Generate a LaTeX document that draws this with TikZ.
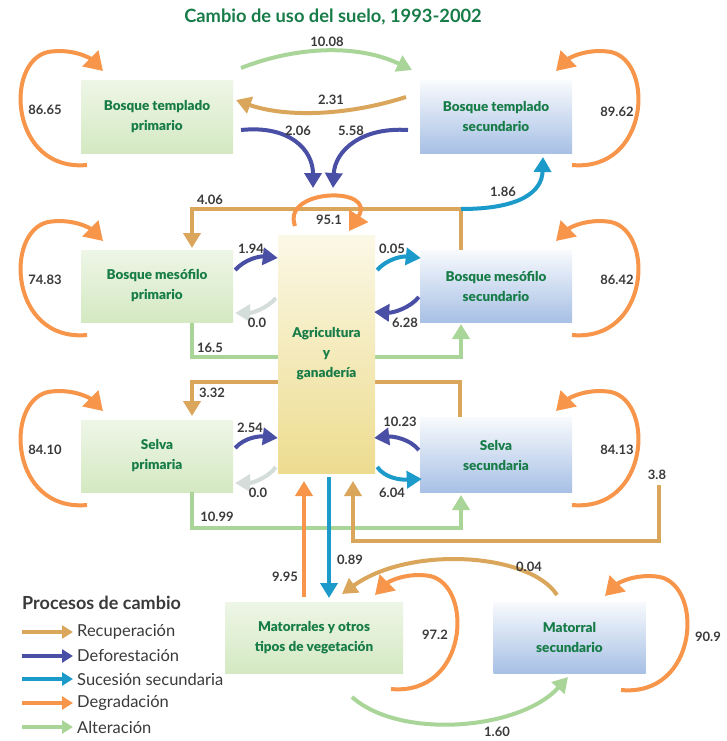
\documentclass[tikz,border=0pt]{standalone}
\usepackage{fontspec}
\setmainfont{Lato}
\newfontfamily\heavy{Lato Black}
\usetikzlibrary{arrows.meta,calc}
\definecolor{tan}{HTML}{D9A65C}
\definecolor{defo}{HTML}{4A4FA6}
\definecolor{suc}{HTML}{1C9BCB}
\definecolor{degr}{HTML}{F7964A}
\definecolor{alt}{HTML}{A9D598}
\definecolor{nul}{HTML}{D4DDDA}
\definecolor{txtg}{HTML}{177C47}
\definecolor{num}{HTML}{3A3A3A}
\definecolor{gtop}{HTML}{EEF6E7}
\definecolor{gbot}{HTML}{D4E9C2}
\definecolor{btop}{HTML}{F8FAFD}
\definecolor{bbot}{HTML}{A7C0E5}
\definecolor{ytop}{HTML}{FBF8E6}
\definecolor{ybot}{HTML}{EDDC8F}
\pgfdeclarelayer{bg}
\pgfsetlayers{bg,main}
\begin{document}
\begin{tikzpicture}[x=1pt,y=-1pt,
  lbl/.style={font=\fontsize{13}{15}\selectfont\bfseries, text=num, inner sep=0pt},
  boxtxt/.style={font=\fontsize{13.5}{20}\selectfont\heavy, text=txtg, align=center, inner sep=0pt},
  gbox/.style={boxtxt, top color=gtop, bottom color=gbot, minimum width=152pt, minimum height=72pt},
  bbox/.style={boxtxt, top color=btop, bottom color=bbot, minimum width=152pt, minimum height=72pt},
  flow/.style={line width=4pt, -{Triangle[length=15pt,width=17pt]}},
  loopy/.style={line width=4pt, draw=degr, -{Triangle[length=18pt,width=22pt]}},
  legarr/.style={line width=4pt, -{Triangle[length=11pt,width=13pt]}},
  legtxt/.style={font=\fontsize{16.5}{18}\selectfont, text=num, anchor=west, inner sep=0pt}
]
\useasboundingbox (0,0) rectangle (727,741);
\begin{pgfonlayer}{bg}
\fill[white] (0,0) rectangle (727,741);
\end{pgfonlayer}

% title
\node[font=\fontsize{18.3}{20}\selectfont\bfseries, text=txtg] (title) at (333,17) {Cambio de uso del suelo, 1993-2002};

% boxes
\node[gbox] (btp) at (157,117) {Bosque templado\\primario};
\node[bbox] (bts) at (496,117) {Bosque templado\\secundario};
\node[gbox] (bmp) at (157,286) {Bosque mesófilo\\primario};
\node[bbox] (bms) at (496,286) {Bosque mesófilo\\secundario};
\node[gbox] (sp) at (157,456) {Selva\\primaria};
\node[bbox, minimum height=75pt] (ss) at (496,455) {Selva\\secundaria};
\node[boxtxt, top color=ytop, bottom color=ybot, minimum width=97pt, minimum height=238pt] (ag) at (326.5,354) {Agricultura\\y\\ganadería};
\node[gbox, minimum width=178pt, minimum height=71pt] (mot) at (314,637.5) {Matorrales y otros\\tipos de vegetación};
\node[bbox, minimum height=71pt] (ms) at (569.5,637.5) {Matorral\\secundario};

% named end points
\coordinate (a1s) at (241,68);   \coordinate (a1e) at (412,70);
\coordinate (a2s) at (406,97);   \coordinate (a2e) at (236,100);
\coordinate (a3s) at (241,130);  \coordinate (a3e) at (313,188);
\coordinate (a4s) at (408,130);  \coordinate (a4e) at (333,188);
\coordinate (j1) at (461,209);   \coordinate (a5e) at (543,157);
\coordinate (bmsT) at (461,250); \coordinate (bmpT) at (192,248);
\coordinate (g1s) at (192,322);  \coordinate (g1e) at (461,324);
\coordinate (ssT) at (460,417);  \coordinate (spT) at (192,416);
\coordinate (g2s) at (192,492);  \coordinate (g2e) at (461,495);
\coordinate (o1s) at (304,597);  \coordinate (o1e) at (304,481);
\coordinate (b1s) at (329,477);  \coordinate (b1e) at (329,598);
\coordinate (t3s) at (659,485);  \coordinate (t3e) at (353,481);
\coordinate (t4s) at (557,595);  \coordinate (t4e) at (342,594);
\coordinate (g3s) at (352,697);  \coordinate (g3e) at (568,677);

\begin{pgfonlayer}{bg}
% lines passing behind the central box
\draw[flow, alt] (g1s) -- (192,357) -- (461,357) -- (g1e);
\draw[flow, tan] (ssT) -- (460,382) -- (192,382) -- (spT);
\end{pgfonlayer}

% top row
\draw[flow, alt] (a1s) .. controls (300,45) and (360,45) .. (a1e);
\draw[flow, tan] (a2s) .. controls (340,118) and (280,116) .. (a2e);
\draw[flow, defo] (a3s) .. controls (290,125) and (313,150) .. (a3e);
\draw[flow, defo] (a4s) .. controls (362,127) and (335,150) .. (a4e);
\draw[flow, tan] (bmsT) -- (j1) -- (192,209) -- (bmpT);
\draw[flow, suc] (j1) .. controls (520,209) and (542,192) .. (a5e);

% agriculture self loop
\draw[loopy] (295,226) .. controls (281,188) and (378,186) .. (349,231);

% middle row small arcs
\draw[flow, defo] ($(bmp.east)+(2,-16)$) .. controls (245,259) and (260,256) .. ($(ag.west)+(0,-96)$);
\draw[flow, nul] ($(ag.west)+(-2,-56)$) .. controls (268,308) and (252,313) .. ($(bmp.east)+(2,27)$);
\draw[flow, suc] ($(ag.east)+(2,-84)$) .. controls (387,259) and (402,256) .. ($(bms.west)+(1,-28)$);
\draw[flow, defo] ($(bms.west)+(-1,11)$) .. controls (410,308) and (393,313) .. ($(ag.east)+(-1,-42)$);

\draw[flow, defo] ($(sp.east)+(2,-8)$) .. controls (245,437) and (260,436) .. ($(ag.west)+(0,84)$);
\draw[flow, nul] ($(ag.west)+(-2,113)$) .. controls (268,478) and (252,483) .. ($(sp.east)+(2,27)$);
\draw[flow, defo] ($(ss.west)+(-1,-5)$) .. controls (410,439) and (393,436) .. ($(ag.east)+(-1,84)$);
\draw[flow, suc] ($(ag.east)+(2,113)$) .. controls (385,478) and (400,480) .. ($(ss.west)+(2,24)$);

\draw[flow, alt] (g2s) -- (192,528) -- (461,528) -- (g2e);

% verticals to bottom
\draw[flow, degr] (o1s) -- (o1e);
\draw[flow, suc] (b1s) -- (b1e);
\draw[flow, tan] (t3s) -- (659,541) -- (353,541) -- (t3e);
\draw[flow, tan] (t4s) .. controls (530,553) and (410,545) .. (t4e);
\draw[flow, alt] (g3s) .. controls (400,740) and (520,730) .. (g3e);

% self loops left
\foreach \dy in {0,170,340}{
  \draw[loopy] (87,165+\dy) .. controls (10,172+\dy) and (4,62+\dy) .. (48,52+\dy) .. controls (72,48+\dy) and (90,58+\dy) .. (103,71+\dy);
}
% self loops right
\foreach \dy in {0,170,340}{
  \draw[loopy] (572,165+\dy) .. controls (649,172+\dy) and (655,62+\dy) .. (611,52+\dy) .. controls (587,48+\dy) and (569,58+\dy) .. (556,71+\dy);
}
% bottom loops
\begin{scope}[shift={(-181,524)}]
  \draw[loopy] (572,165) .. controls (649,172) and (655,62) .. (611,52) .. controls (587,48) and (569,58) .. (556,71);
\end{scope}
\begin{scope}[shift={(49,525)}]
  \draw[loopy] (572,165) .. controls (649,172) and (655,62) .. (611,52) .. controls (587,48) and (569,58) .. (556,71);
\end{scope}

% labels
\node[lbl] (l1) at (327,42) {10.08};
\node[lbl] (l2) at (331,100) {2.31};
\node[lbl] (l3) at (298,131) {2.06};
\node[lbl] (l4) at (351,131) {5.58};
\node[lbl] (l5) at (503,192) {1.86};
\node[lbl] (l6) at (210,200) {4.06};
\node[lbl] (l7) at (329,220) {95.1};
\node[lbl] (l8) at (251,249) {1.94};
\node[lbl] (l9) at (257,323) {0.0};
\node[lbl] (l10) at (392,249) {0.05};
\node[lbl] (l11) at (405,323) {6.28};
\node[lbl] (l12) at (210,348) {16.5};
\node[lbl] (l13) at (212,393) {3.32};
\node[lbl] (l14) at (250,428) {2.54};
\node[lbl] (l15) at (258,493) {0.0};
\node[lbl] (l16) at (400,422) {10.23};
\node[lbl] (l17) at (392,493) {6.04};
\node[lbl] (l18) at (217,517) {10.99};
\node[lbl] (l19) at (657,475) {3.8};
\node[lbl] (l20) at (285,577) {9.95};
\node[lbl] (l21) at (350,560) {0.89};
\node[lbl] (l22) at (529,567) {0.04};
\node[lbl] (l23) at (435,635) {97.2};
\node[lbl] (l24) at (708,637) {90.9};
\node[lbl] (l25) at (497,732) {1.60};
\node[lbl] (l26) at (45,110) {86.65};
\node[lbl] (l27) at (617,112) {89.62};
\node[lbl] (l28) at (45,280) {74.83};
\node[lbl] (l29) at (617,280) {86.42};
\node[lbl] (l30) at (45,450) {84.10};
\node[lbl] (l31) at (617,450) {84.13};

% legend
\node[font=\fontsize{18}{20}\selectfont\bfseries, text=num, anchor=west, inner sep=0pt] (legt) at (22,603) {Procesos de cambio};
\foreach \c/\t/\y/\n in {tan/Recuperación/632/r1, defo/Deforestación/656/r2, suc/Sucesión secundaria/679/r3, degr/Degradación/703/r4, alt/Alteración/727/r5}{
  \coordinate (\n s) at (22,\y);
  \coordinate (\n e) at (73,\y);
  \draw[legarr, \c] (\n s) -- (\n e);
  \node[legtxt] (\n t) at (77,\y) {\t};
}
\end{tikzpicture}
\end{document}
